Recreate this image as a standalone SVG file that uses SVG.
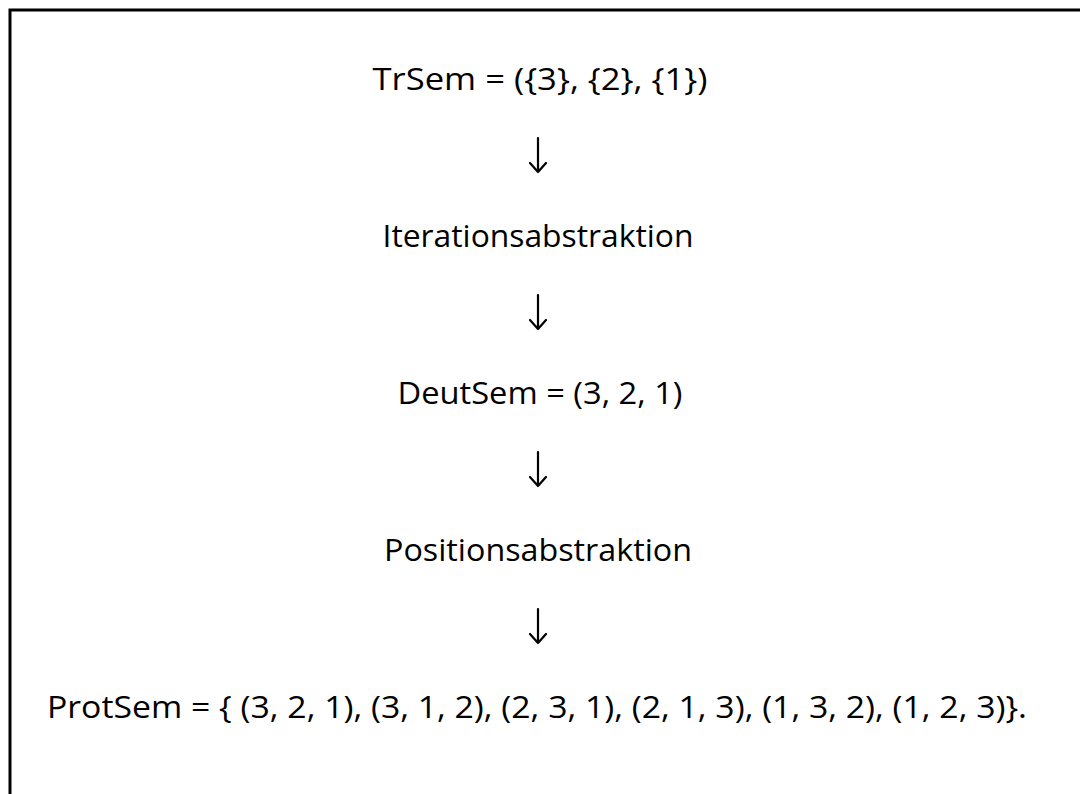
<svg xmlns="http://www.w3.org/2000/svg" width="1080" height="794" viewBox="0 0 1080 794">
<style>
.t{font-family:"Open Sans","Noto Sans","Liberation Sans",sans-serif;font-size:31px;fill:#000;text-anchor:middle}
.arr{stroke:#000;stroke-width:2.2;fill:none;stroke-linecap:round;stroke-linejoin:round}
</style>
<defs>
<path id="arrow" class="arr" d="M0,0 V34 M-8,25 L0,34 L8,25"/>
</defs>
<rect width="1080" height="794" fill="#fff"/>
<g id="frame" stroke="#000" stroke-width="3" fill="none">
<path d="M10,794 V10 H1080"/>
</g>
<g id="n1"><text class="t" x="540" y="90" textLength="335" lengthAdjust="spacingAndGlyphs">TrSem = ({3}, {2}, {1})</text></g>
<g id="n2"><text class="t" x="538" y="247" textLength="311" lengthAdjust="spacingAndGlyphs">Iterationsabstraktion</text></g>
<g id="n3"><text class="t" x="540" y="404" textLength="285" lengthAdjust="spacingAndGlyphs">DeutSem = (3, 2, 1)</text></g>
<g id="n4"><text class="t" x="538" y="561" textLength="308" lengthAdjust="spacingAndGlyphs">Positionsabstraktion</text></g>
<g id="n5"><text class="t" x="537" y="718" textLength="980" lengthAdjust="spacingAndGlyphs">ProtSem = { (3, 2, 1), (3, 1, 2), (2, 3, 1), (2, 1, 3), (1, 3, 2), (1, 2, 3)}.</text></g>
<g id="connectors">
<use href="#arrow" x="538" y="138"/>
<use href="#arrow" x="538" y="295"/>
<use href="#arrow" x="538" y="452"/>
<use href="#arrow" x="538" y="609"/>
</g>
</svg>
